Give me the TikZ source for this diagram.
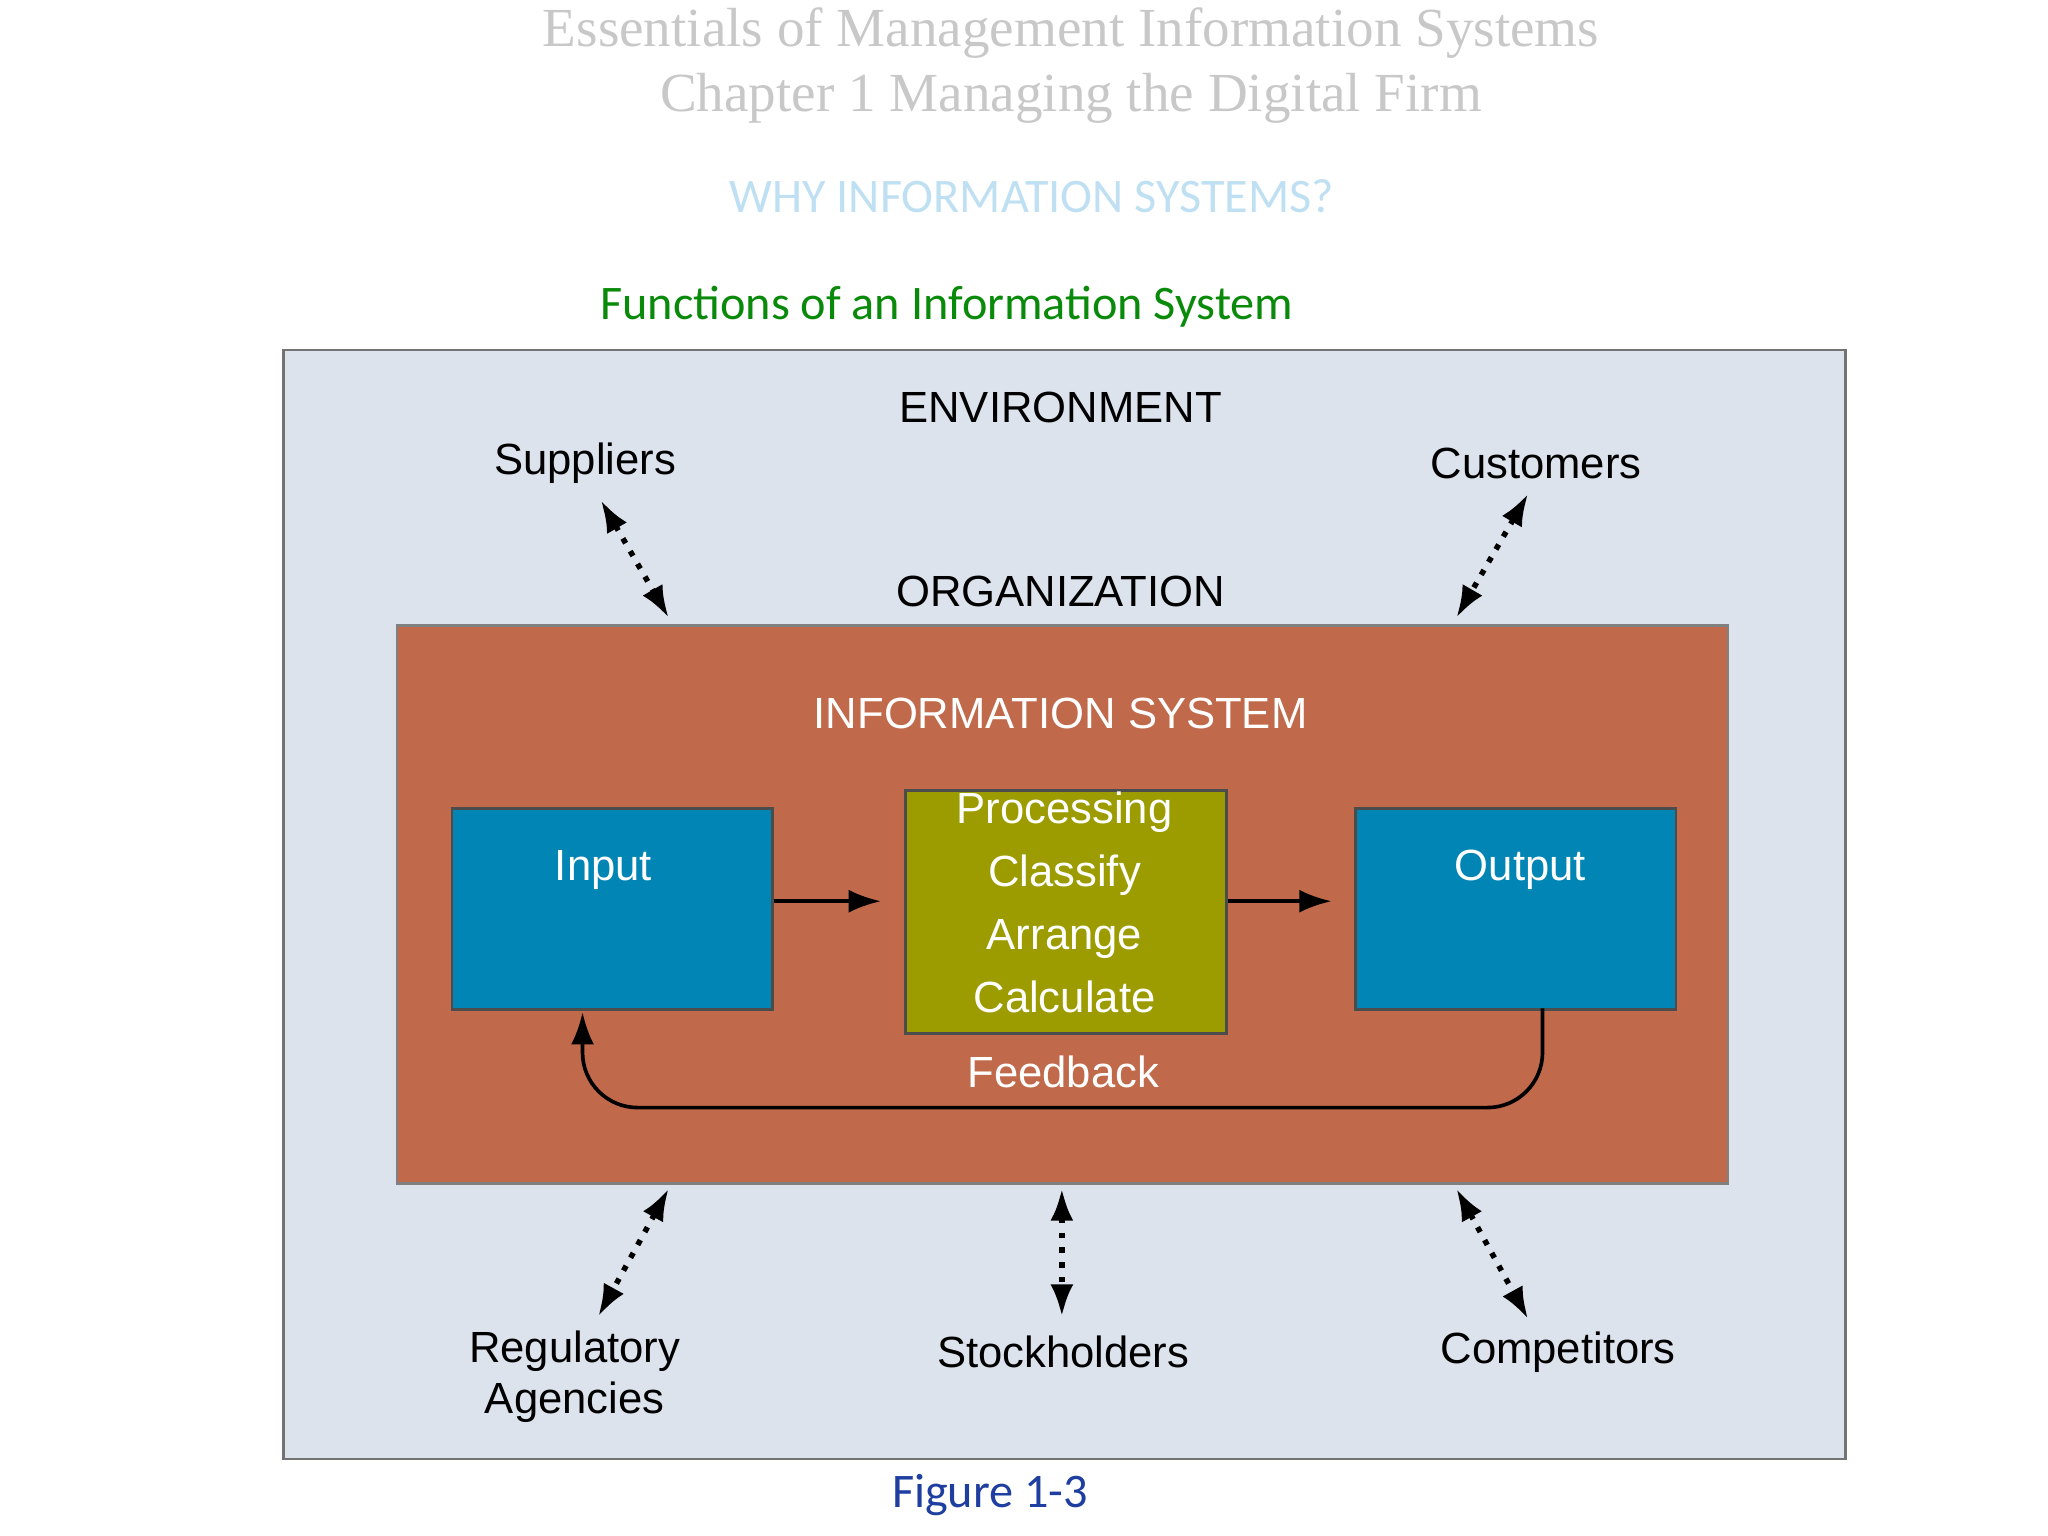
\documentclass[tikz,border=0pt]{standalone}
\usepackage{fontspec}
\setmainfont{Liberation Sans}
\newfontfamily\carl{Carlito}
\newfontfamily\tms{Liberation Serif}
\usetikzlibrary{arrows.meta}
\definecolor{envbg}{HTML}{DCE3EC}
\definecolor{orgbg}{HTML}{C06A4B}
\definecolor{blu}{HTML}{0085B4}
\definecolor{olv}{HTML}{9C9C00}
\definecolor{ttl}{HTML}{C8C8C8}
\definecolor{why}{HTML}{BFE0F2}
\definecolor{grn}{HTML}{0A8A0A}
\definecolor{fig}{HTML}{1F3FA0}
\begin{document}
\begin{tikzpicture}[x=0.01cm,y=-0.01cm,
  lbl/.style={font=\fontsize{9.5}{11}\selectfont, inner sep=0pt},
  wl/.style={lbl, text=white},
  box/.style={draw=black!70, line width=0.6pt},
  flow/.style={-{Latex[length=7pt,width=5pt]}, line width=0.8pt},
  dot/.style={{Latex[length=7pt,width=5pt]}-{Latex[length=7pt,width=5pt]}, line width=1.2pt, dotted}]
\useasboundingbox (0,0) rectangle (1568,1176);
% titles
\node[font=\tms\fontsize{12}{14}\selectfont, text=ttl] (t1) at (820,25) {Essentials of Management Information Systems};
\node[font=\tms\fontsize{12}{14}\selectfont, text=ttl] (t2) at (820,75) {Chapter 1 Managing the Digital Firm};
\node[font=\carl\fontsize{10.5}{12}\selectfont, text=why] (t3) at (790,150) {WHY INFORMATION SYSTEMS?};
\node[font=\carl\fontsize{10.5}{12}\selectfont, text=grn] (t4) at (725,235) {Functions of an Information System};
% environment
\draw[fill=envbg, draw=black!55, line width=0.6pt] (217,268) rectangle (1413,1117);
\node[lbl] (env) at (812,312) {ENVIRONMENT};
\node[lbl] (sup) at (448,355) {Suppliers};
\node[lbl] (cus) at (1176,355) {Customers};
\node[lbl] (org) at (812,453) {ORGANIZATION};
\draw[fill=orgbg, draw=black!50, line width=0.6pt] (304,479) rectangle (1323,906);
\node[wl] (is) at (812,546) {INFORMATION SYSTEM};
% boxes
\node[box, fill=blu, minimum width=245\pgflinewidth, anchor=north west, inner sep=0pt,
  minimum width=2.45cm, minimum height=1.54cm] (in) at (345,618) {};
\node[wl] at (462,666) {Input};
\node[box, fill=olv, anchor=north west, inner sep=0pt,
  minimum width=2.46cm, minimum height=1.86cm] (pr) at (692,604) {};
\node[wl, align=center, font=\fontsize{9.5}{13.7}\selectfont] at (815,691) {Processing\\Classify\\Arrange\\Calculate};
\node[box, fill=blu, anchor=north west, inner sep=0pt,
  minimum width=2.45cm, minimum height=1.54cm] (out) at (1037,618) {};
\node[wl] at (1164,666) {Output};
\coordinate (a1) at (in.east |- 0,690);
\coordinate (a2) at (pr.west |- 0,690);
\coordinate (a3) at (pr.east |- 0,690);
\coordinate (a4) at (out.west |- 0,690);
\draw[flow] (a1) -- ([xshift=-5]a2);
\draw[flow] (a3) -- ([xshift=-5]a4);
% feedback
\coordinate (f1) at (1181,772);
\coordinate (f2) at (446,775);
\draw[flow, rounded corners=12] (f1) -- (1181,848) -- (446,848) -- (f2);
\node[wl] (fb) at (814,821) {Feedback};
% environment links
\coordinate (s1) at (460,383); \coordinate (s2) at (512,473);
\coordinate (c1) at (1170,378); \coordinate (c2) at (1115,473);
\coordinate (r1) at (512,910); \coordinate (r2) at (458,1008);
\coordinate (k1) at (813,910); \coordinate (k2) at (813,1008);
\coordinate (p1) at (1115,910); \coordinate (p2) at (1170,1010);
\draw[dot] (s1) -- (s2);
\draw[dot] (c1) -- (c2);
\draw[dot] (r1) -- (r2);
\draw[dot] (k1) -- (k2);
\draw[dot] (p1) -- (p2);
\node[lbl, align=center, font=\fontsize{9.5}{11.2}\selectfont] (reg) at (440,1054) {Regulatory\\Agencies};
\node[lbl] (sto) at (814,1035) {Stockholders};
\node[lbl] (com) at (1193,1035) {Competitors};
\node[font=\carl\fontsize{10.5}{12}\selectfont, text=fig] (fg) at (758,1145) {Figure 1-3};
\end{tikzpicture}
\end{document}
